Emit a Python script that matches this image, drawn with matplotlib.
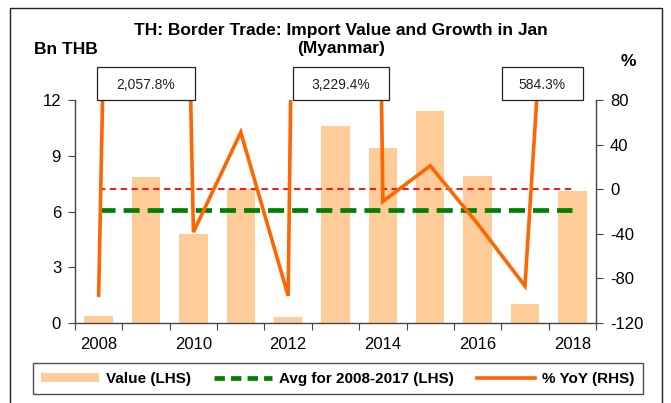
import matplotlib
matplotlib.use("Agg")
import matplotlib.pyplot as plt
import numpy as np
from matplotlib.patches import Rectangle, Patch
from matplotlib.lines import Line2D
import matplotlib.transforms as mtransforms

years = [2008, 2009, 2010, 2011, 2012, 2013, 2014, 2015, 2016, 2017, 2018]
value_bn_thb = [0.36, 7.84, 4.79, 7.21, 0.32, 10.60, 9.42, 11.41, 7.89, 1.04, 7.12]
yoy_pct = [-95.0, 2057.8, -38.5, 51.0, -95.6, 3229.4, -11.0, 21.0, -31.0, -86.8, 584.3]
avg_2008_2017 = float(np.mean(value_bn_thb[:10]))
xtick_labels = ["2008", "2010", "2012", "2014", "2016", "2018"]

plt.rcParams['font.family'] = ['Liberation Sans', 'DejaVu Sans']
plt.rcParams['axes.unicode_minus'] = False

W, H = 671, 403
fig = plt.figure(figsize=(W / 100, H / 100), dpi=100)
fig.patch.set_facecolor("white")

ax = fig.add_axes([75 / W, 1 - 323 / H, (596 - 75) / W, (323 - 100) / H])
ax2 = ax.twinx()

x = np.arange(len(years))
ax.bar(x, value_bn_thb, width=0.6, color="#FFCC99", zorder=2)
ax.plot([x[0], x[-1]], [avg_2008_2017] * 2, color="#008000", lw=3.4,
        ls=(0, (3.4, 1.7)), zorder=3)

ax.set_xlim(-0.5, len(years) - 0.5)
ax.set_ylim(0, 12)
ax.set_yticks([0, 3, 6, 9, 12])
ax2.set_ylim(-120, 80)
ax2.set_yticks([-120, -80, -40, 0, 40, 80])

ax2.plot([x[0], x[-1]], [0, 0], color="#FF0000", lw=1.3, ls=(0, (3.5, 2.5)), zorder=3)
ax2.plot(x, yoy_pct, color="#FF6600", lw=2.6, zorder=4, solid_joinstyle="miter")

# ticks between categories; labels for even years
ax.set_xticks(np.arange(-0.5, len(years), 1.0), minor=False)
ax.set_xticklabels([])
ax.set_xticks([years.index(int(t)) for t in xtick_labels], minor=True)
ax.set_xticklabels(xtick_labels, minor=True)
ax.tick_params(axis="x", which="minor", length=0, labelsize=12, pad=10)
ax.tick_params(axis="x", which="major", length=5, direction="out", color="#444444")
ax.tick_params(axis="y", length=5, direction="out", labelsize=12, color="#444444", pad=5)
ax2.tick_params(axis="y", length=5, direction="out", labelsize=12, color="#444444", pad=5)

for a in (ax, ax2):
    a.spines["top"].set_visible(False)
    for s in ("left", "right", "bottom"):
        a.spines[s].set_color("#444444")
        a.spines[s].set_linewidth(1.0)
ax.spines["right"].set_visible(False)
ax2.spines["left"].set_visible(False)
ax2.spines["bottom"].set_visible(False)

# annotation boxes for clipped values
ymax = ax2.get_ylim()[1]
trans = mtransforms.blended_transform_factory(ax2.transData, ax2.transAxes)
box_layout = {1: (0.0, 2.05), 5: (0.11, 2.03), 10: (-0.64, 1.71)}
for i, v in enumerate(yoy_pct):
    if v > ymax:
        off, bw = box_layout.get(i, (0.0, 2.0))
        cx = x[i] + off
        r = Rectangle((cx - bw / 2, 1.0), bw, 0.148, transform=trans, fill=True,
                      fc="white", ec="#222222", lw=0.9, clip_on=False, zorder=10)
        ax2.add_patch(r)
        ax2.text(cx, 1.068, f"{v:,.1f}%", transform=trans, ha="center", va="center",
                 fontsize=10, zorder=11, clip_on=False, color="#222222")

fig.text(341 / W, 1 - 30 / H, "TH: Border Trade: Import Value and Growth in Jan",
         ha="center", va="center", fontsize=12.5, fontweight="bold")
fig.text(341 / W, 1 - 48 / H, "(Myanmar)", ha="center", va="center",
         fontsize=12.5, fontweight="bold")
fig.text(34 / W, 1 - 49 / H, "Bn THB", ha="left", va="center", fontsize=12.5, fontweight="bold")
fig.text(628 / W, 1 - 61 / H, "%", ha="center", va="center", fontsize=12.5, fontweight="bold")

handles = [Patch(facecolor="#FFCC99", edgecolor="none"),
           Line2D([], [], color="#008000", lw=3.4, ls=(0, (2.2, 1.3))),
           Line2D([], [], color="#FF6600", lw=2.6)]
labels = ["Value (LHS)", "Avg for 2008-2017 (LHS)", "% YoY (RHS)"]
leg = fig.legend(handles, labels, loc="lower left", ncol=3,
                 bbox_to_anchor=(33 / W, 1 - 394 / H, (643 - 33) / W, 34 / H),
                 mode="expand", frameon=True, fancybox=False, edgecolor="#222222",
                 prop=dict(size=11, weight="bold"), handlelength=3.8, handleheight=0.55,
                 borderpad=0.55, borderaxespad=0.0, columnspacing=1.0, handletextpad=0.45)
leg.get_frame().set_linewidth(1.0)

fig.patches.append(Rectangle((10 / W, -0.01), (662 - 10) / W, 1 - 8 / H + 0.01,
                             transform=fig.transFigure, fill=False, ec="#222222", lw=1.0))

fig.savefig("out.png", dpi=100)
